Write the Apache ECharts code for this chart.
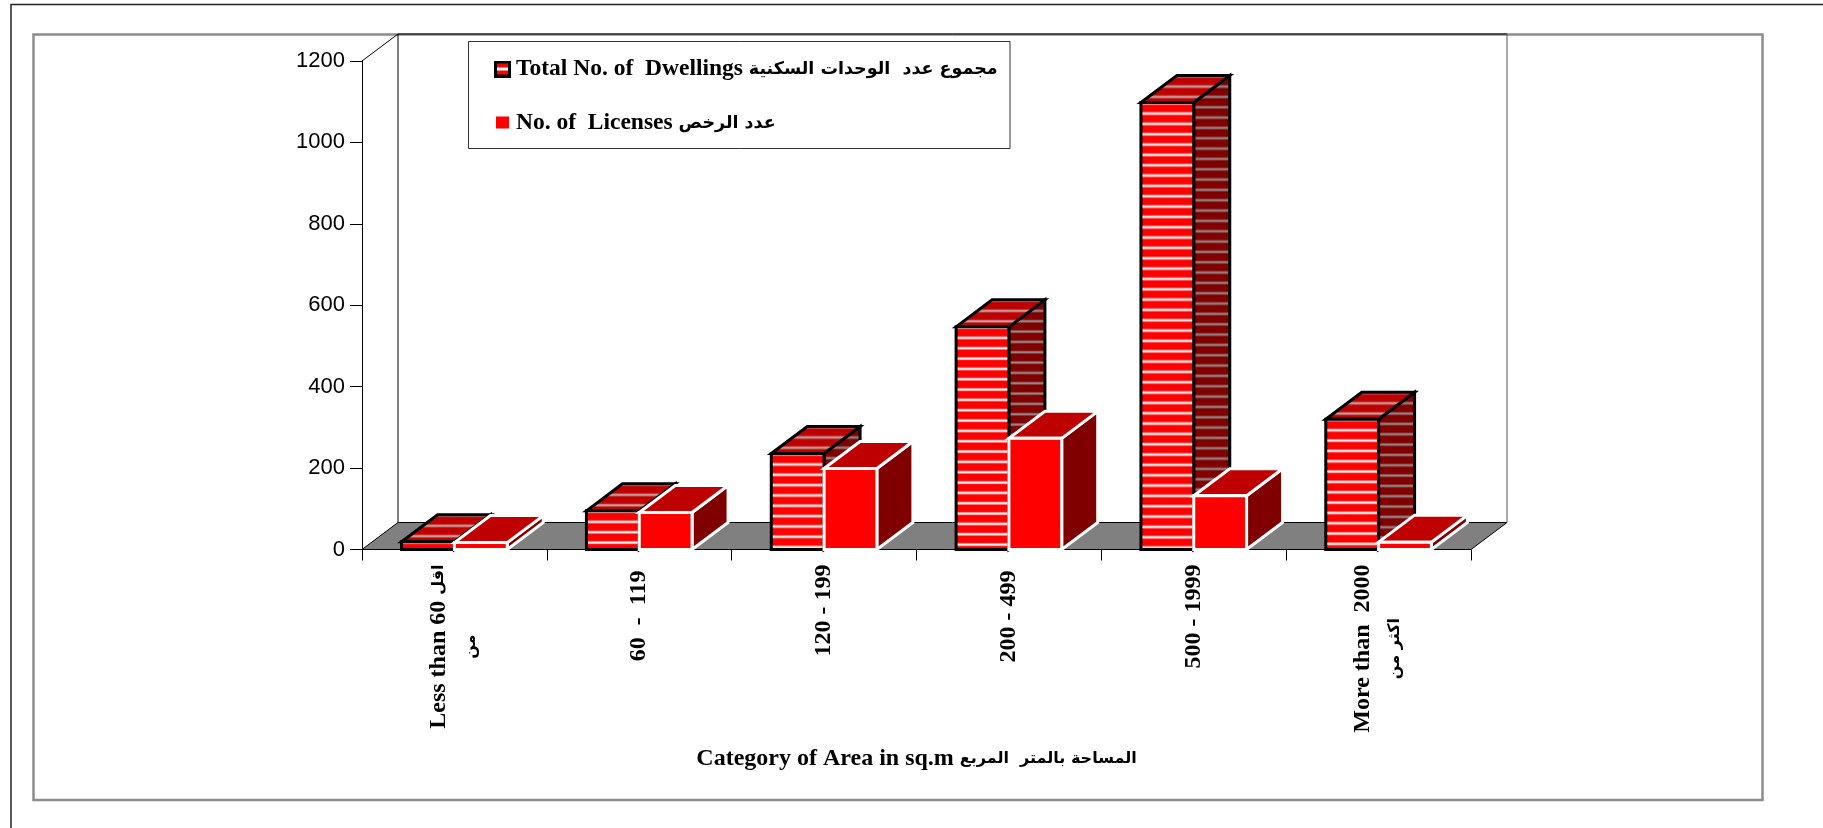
<!DOCTYPE html>
<html lang="en">
<head>
    <meta charset="UTF-8">
    <title>Category of Area</title>
    <script src="https://cdn.jsdelivr.net/npm/echarts@6/dist/echarts.min.js"></script>
    <style>
        html,body{margin:0;padding:0;background:#fff;}
        #chart{width:1823px;height:828px;}
    </style>
</head>
<body>
<div id="chart"></div>
<script>
    // data
    var categories = [
        'Less than 60 اقل\nمن',
        '60  -  119 ',
        '120 - 199',
        '200 - 499 ',
        '500 - 1999',
        'More than  2000\nاكثر من'
    ];
    var dwellings = [19, 95, 236, 547, 1098, 320];
    var licenses = [17, 91, 199, 273, 132, 18];
    var yTicks = {min: 0, max: 1200, interval: 200};
    var dwellingsName = 'Total No. of  Dwellings مجموع عدد  الوحدات السكنية';
    var licensesName = 'No. of  Licenses عدد الرخص';
    var axisTitle = 'Category of Area in sq.m المساحة بالمتر  المربع';

    var serif = '"Liberation Serif", serif';
    var arabic = '"DejaVu Sans", sans-serif';
    // 3d depth of the box, px
    var DX = 36, DY = 27;
    var STRIPE = 31 / 3;

    // the only arabic face here is wide, so latin and arabic runs get their own size
    function richText(s){
        return s.split('\n').map(function(line){
            return line.replace(/([^\u0600-\u06ff]+)|([\u0600-\u06ff][\u0600-\u06ff ]*)/g, function(m, en, ar){
                return en ? '{en|' + en + '}' : '{ar|' + ar + '}';
            });
        }).join('\n');
    }
    function richStyle(enSize, arSize, lineHeight){
        return {
            en: {fontFamily: serif, fontWeight: 'bold', fontSize: enSize, color: '#000', lineHeight: lineHeight},
            ar: {fontFamily: arabic, fontWeight: 'bold', fontSize: arSize, color: '#000', lineHeight: lineHeight, align: 'center'}
        };
    }

    // repeating stripes, 3 periods in 31px so that the period comes out as 10.33
    function stripes(base, line, soft){
        var c = document.createElement('canvas');
        c.width = 4; c.height = 31;
        var g = c.getContext('2d');
        g.fillStyle = base;
        g.fillRect(0, 0, 4, 31);
        for(var k = 0; k < 4; k++){
            var y = k * STRIPE;
            g.fillStyle = soft;
            g.fillRect(0, y - 1.5, 4, 3);
            g.fillStyle = line;
            g.fillRect(0, y - 0.7, 4, 1.4);
        }
        return c;
    }
    var frontImg = stripes('#ff0000', '#ffffff', '#ff9c9c');
    var sideImg = stripes('#800000', '#9a8a8a', '#8a5050');
    var topImg = stripes('#bf0000', '#c8a8a8', '#c06060');

    function swatch(striped){
        var c = document.createElement('canvas');
        c.width = 17; c.height = 17;
        var g = c.getContext('2d');
        if(striped){
            g.fillStyle = '#000';
            g.fillRect(0, 0, 17, 17);
            g.fillStyle = '#ff0000';
            g.fillRect(3, 3, 11, 11);
            g.fillStyle = '#fff';
            g.fillRect(3, 7, 11, 3);
        }else{
            g.fillStyle = '#ff0000';
            g.fillRect(2, 2, 13, 12);
        }
        return 'image://' + c.toDataURL();
    }

    function poly(points, fill, stroke, lw){
        return {
            type: 'polygon',
            shape: {points: points},
            style: {fill: fill, stroke: stroke, lineWidth: lw, lineJoin: 'miter'}
        };
    }

    // one 3d bar. slot: -1 left of the band centre, 0 right of it
    function barItem(slot, striped){
        return function(params, api){
            var cat = api.value(0);
            var top = api.coord([cat, api.value(1)]);
            var base = api.coord([cat, 0]);
            var band = api.size([1, 0])[0];
            var w = band / 3.5; // gap width 150%
            var x0 = top[0] + slot * w, x1 = x0 + w;
            var yt = top[1], yb = base[1];
            var stroke = striped ? '#000' : '#fff';
            var lw = 3;
            var f = '#ff0000', s = '#800000', t = '#bf0000';
            if(striped){
                f = {image: frontImg, repeat: 'repeat', x: 0, y: yt + 11};
                s = {image: sideImg, repeat: 'repeat', x: 0, y: yt - DY + 11};
                t = {image: topImg, repeat: 'repeat', x: 0, y: yt - DY + 11};
            }
            return {
                type: 'group',
                children: [
                    poly([[x1, yt], [x1 + DX, yt - DY], [x1 + DX, yb - DY], [x1, yb]], s, stroke, lw),
                    poly([[x0, yt], [x0 + DX, yt - DY], [x1 + DX, yt - DY], [x1, yt]], t, stroke, lw),
                    poly([[x0, yt], [x1, yt], [x1, yb], [x0, yb]], f, stroke, lw)
                ]
            };
        };
    }

    // back wall and floor, from the axis extents
    function wallItem(params, api){
        var band = api.size([1, 0])[0];
        var first = api.coord([0, yTicks.min]);
        var last = api.coord([categories.length - 1, yTicks.min]);
        var upper = api.coord([0, yTicks.max]);
        var l = first[0] - band / 2, r = last[0] + band / 2;
        var b = first[1], t = upper[1];
        var line = {stroke: '#000', lineWidth: 1};
        return {
            type: 'group',
            children: [
                poly([[l, b], [l + DX, b - DY], [r + DX, b - DY], [r, b]], '#808080', '#000', 1),
                {type: 'line', shape: {x1: l, y1: t, x2: l + DX, y2: t - DY}, style: line},
                {type: 'line', shape: {x1: l + DX, y1: t - DY, x2: l + DX, y2: b - DY}, style: line},
                {type: 'line', shape: {x1: l + DX, y1: t - DY, x2: r + DX, y2: t - DY}, style: line},
                {type: 'line', shape: {x1: r + DX, y1: t - DY, x2: r + DX, y2: b - DY}, style: {stroke: '#555', lineWidth: 1}}
            ]
        };
    }

    var myChart = echarts.init(document.getElementById('chart'));
    var option = {
        animation: false,
        backgroundColor: '#fff',
        grid: {left: 362, top: 61, width: 1109, height: 488.5, containLabel: false},
        legend: {
            left: 494,
            top: 57,
            orient: 'vertical',
            padding: 0,
            itemWidth: 17,
            itemHeight: 17,
            itemGap: 30,
            selectedMode: false,
            formatter: richText,
            textStyle: {rich: richStyle(23.5, 17.5, 24)},
            data: [
                {name: dwellingsName, icon: swatch(true)},
                {name: licensesName, icon: swatch(false)}
            ]
        },
        xAxis: {
            type: 'category',
            data: categories,
            axisLine: {lineStyle: {color: '#000', width: 1}},
            axisTick: {show: true, length: 11, lineStyle: {color: '#000', width: 1}},
            axisLabel: {
                interval: 0,
                rotate: 90,
                margin: 15,
                formatter: richText,
                rich: richStyle(24, 16, 32),
                hideOverlap: false
            },
            name: richText(axisTitle),
            nameLocation: 'middle',
            nameGap: 195.5,
            nameTextStyle: {rich: richStyle(24, 16, 28)}
        },
        yAxis: {
            type: 'value',
            min: yTicks.min,
            max: yTicks.max,
            interval: yTicks.interval,
            splitLine: {show: false},
            axisLine: {show: true, lineStyle: {color: '#000', width: 1}},
            axisTick: {show: true, length: 12, lineStyle: {color: '#000', width: 1}},
            axisLabel: {
                margin: 17,
                formatter: function(v){ return String(v); },
                fontFamily: '"Liberation Sans", Arial, sans-serif',
                fontSize: 22,
                color: '#000'
            }
        },
        series: [
            {
                type: 'custom',
                silent: true,
                z: 1,
                data: [[0, 0]],
                encode: {x: 0, y: 1},
                renderItem: wallItem
            },
            {
                type: 'custom',
                name: dwellingsName,
                z: 2,
                data: dwellings.map(function(v, i){ return [i, v]; }),
                encode: {x: 0, y: 1},
                renderItem: barItem(-1, true)
            },
            {
                type: 'custom',
                name: licensesName,
                z: 3,
                data: licenses.map(function(v, i){ return [i, v]; }),
                encode: {x: 0, y: 1},
                renderItem: barItem(0, false)
            }
        ],
        graphic: [
            // page frame, only top and left are in the picture
            {type: 'polyline', silent: true, shape: {points: [[11, 828], [11, 4.5], [1823, 4.5]]}, style: {fill: 'none', stroke: '#222', lineWidth: 1.5}},
            {type: 'rect', silent: true, shape: {x: 33.5, y: 34.5, width: 1729, height: 765.5}, style: {fill: 'none', stroke: '#8c8c8c', lineWidth: 2.5}},
            // legend box
            {type: 'rect', silent: true, shape: {x: 468.5, y: 41.5, width: 541.5, height: 107}, style: {fill: '#fff', stroke: '#333', lineWidth: 1}}
        ]
    };
    myChart.setOption(option);
</script>
</body>
</html>
